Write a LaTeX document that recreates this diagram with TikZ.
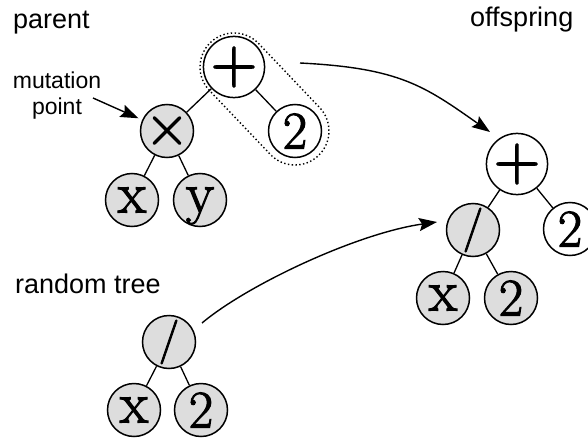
\documentclass[tikz,border=0pt]{standalone}
\usepackage{fontspec}
\newfontfamily\labelfont{Liberation Sans}
\newfontfamily\glyphfont[FakeBold=2]{Latin Modern Roman}
\usetikzlibrary{arrows.meta,shapes.misc}

\definecolor{nodegray}{RGB}{221,221,221}

\tikzset{
  tn/.style={circle, draw, line width=1.5pt, minimum size=53pt, inner sep=0pt, fill=white},
  tg/.style={tn, fill=nodegray},
  fsym/.style={font=\glyphfont\fontsize{64}{66}\selectfont},
  fnum/.style={font=\glyphfont\fontsize{53}{55}\selectfont},
  fvar/.style={font=\glyphfont\fontsize{58}{60}\selectfont, text depth=0pt},
  fdiv/.style={font=\glyphfont\fontsize{44}{46}\selectfont},
  fmul/.style={font=\glyphfont\fontsize{60}{62}\selectfont},
  edge/.style={line width=1.3pt},
  arr/.style={line width=1.4pt, -{Stealth[length=18pt,width=13pt,inset=3pt]}},
  lbl/.style={font=\labelfont\fontsize{27}{32}\selectfont, inner sep=0pt},
  mlbl/.style={font=\labelfont\fontsize{23}{25}\selectfont, inner sep=0pt, align=center},
  sel/.style={draw, rounded rectangle, line width=1.4pt, dash pattern=on 1.4pt off 2.4pt,
              inner sep=0pt, minimum height=68pt, minimum width=156.4pt}
}

\begin{document}
\begin{tikzpicture}[x=1pt, y=-1pt]
  \useasboundingbox (0,0) rectangle (588,441);
  \clip (0,0) rectangle (588,441);

  % parent tree
  \node[tn, fsym] (pplus) at (234,67) {+};
  \node[tg, fmul] (pmul) at (167,131) {×};
  \node[tn, fnum] (p2) at (295,131) {2};
  \node[tg, fvar] (px) at (132,200) {x};
  \node[tg, fvar] (py) at (200,200) {y};
  \draw[edge] (pplus) -- (pmul);
  \draw[edge] (pplus) -- (p2);
  \draw[edge] (pmul) -- (px);
  \draw[edge] (pmul) -- (py);

  % selected subtree outline
  \node[sel, rotate=-46.4] (subtree) at (264.5,99) {};

  % offspring tree
  \node[tn, fsym] (oplus) at (517,164) {+};
  \node[tg, fdiv] (odiv) at (473,230) {/};
  \node[tn, fnum] (o2) at (570,229) {2};
  \node[tg, fvar] (ox) at (443,298) {x};
  \node[tg, fnum] (otwo) at (511,298) {2};
  \draw[edge] (oplus) -- (odiv);
  \draw[edge] (oplus) -- (o2);
  \draw[edge] (odiv) -- (ox);
  \draw[edge] (odiv) -- (otwo);

  % random tree
  \node[tg, fdiv] (rdiv) at (169,342) {/};
  \node[tg, fvar] (rx) at (134,410) {x};
  \node[tg, fnum] (r2) at (201,410) {2};
  \draw[edge] (rdiv) -- (rx);
  \draw[edge] (rdiv) -- (r2);

  % labels
  \node[lbl, anchor=base west] (lparent) at (13,29) {parent};
  \node[lbl, anchor=base west] (loff) at (470,27) {offspring};
  \node[lbl, anchor=base west] (lrand) at (15,293) {random tree};
  \node[mlbl, anchor=base] (lmut) at (57,114) {mutation\\point};

  % arrows
  \coordinate (m0) at (93,98);
  \draw[arr, shorten >=4pt] (m0) -- (pmul);
  \coordinate (a1s) at (300,63);
  \coordinate (a1e) at (490,132);
  \draw[arr] (a1s) .. controls (400,68) and (424.5,86.1) .. (a1e);
  \coordinate (a2s) at (202,323);
  \coordinate (a2e) at (437,222);
  \draw[arr] (a2s) .. controls (248,284.4) and (357.8,233.1) .. (a2e);
\end{tikzpicture}
\end{document}
